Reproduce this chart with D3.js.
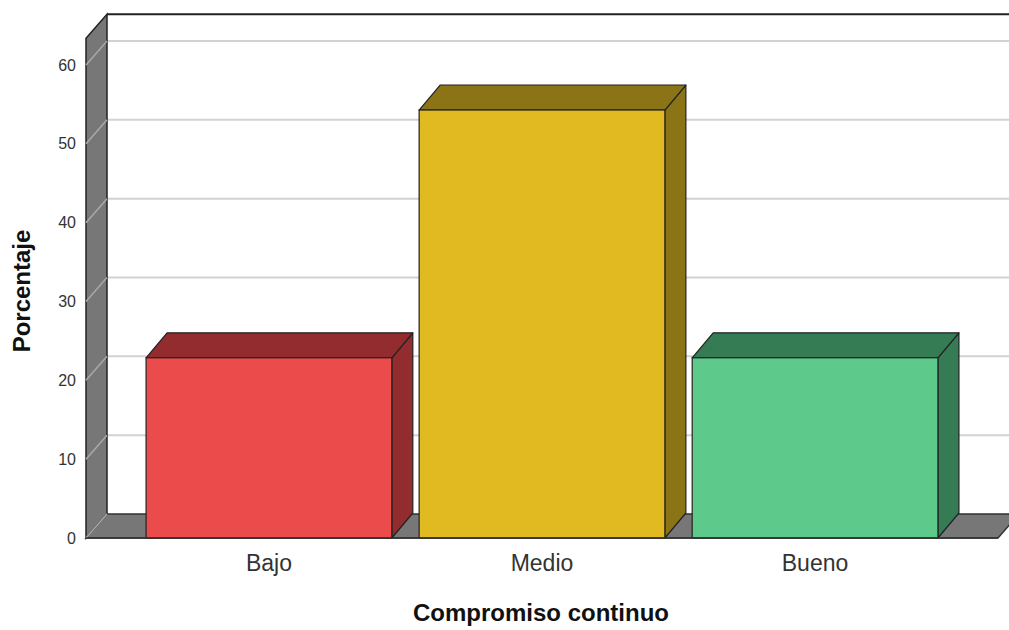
<!DOCTYPE html>
<html>
<head>
<meta charset="utf-8">
<script src="https://cdn.jsdelivr.net/npm/d3@7"></script>
<style>
  body { margin: 0; background: #fff; }
  text { font-family: "Liberation Sans", Arial, sans-serif; }
</style>
</head>
<body>
<div class="canvas"></div>
<script>
// data
const categories = ['Bajo', 'Medio', 'Bueno'];
const percentages = [22.86, 54.29, 22.86];
const yTicks = [0, 10, 20, 30, 40, 50, 60];
const frontColors = ['#ec4b4c', '#e0ba20', '#5dc98b'];
const sideColors = ['#922c2f', '#8b7416', '#357c55'];

const width = 1009, height = 630;
const svg = d3.select('.canvas')
    .append('svg')
    .attr('width', width)
    .attr('height', height);

// front plane: x from 86 to 998, y baseline 538
const x = d3.scaleBand()
    .domain(categories)
    .range([86, 998])
    .paddingInner(0.1)
    .paddingOuter(0.22);

const y = d3.scaleLinear()
    .domain([0, 60])
    .range([538, 65]);

const wall = { dx: 21, dy: -24 };
const bar = { dx: 21, dy: -25 };
const yTop = 63.4;
const x0 = 86, x1 = 998;

// back wall gridlines
svg.append('g')
    .selectAll('line')
    .data(yTicks.filter(d => d > 0))
    .join('line')
    .attr('x1', x0 + wall.dx)
    .attr('x2', width + 20)
    .attr('y1', d => y(d) + wall.dy)
    .attr('y2', d => y(d) + wall.dy)
    .attr('stroke', '#d2d2d2')
    .attr('stroke-width', 2);

// back wall frame
svg.append('line')
    .attr('x1', x0 + wall.dx).attr('x2', width + 20)
    .attr('y1', y(yTop) + wall.dy).attr('y2', y(yTop) + wall.dy)
    .attr('stroke', '#222').attr('stroke-width', 2);

// left wall
svg.append('path')
    .attr('d', `M${x0},${y(0)} L${x0},${y(yTop)} L${x0 + wall.dx},${y(yTop) + wall.dy} L${x0 + wall.dx},${y(0) + wall.dy} Z`)
    .attr('fill', '#777')
    .attr('stroke', '#222')
    .attr('stroke-width', 1.5);

// gridlines across the left wall
svg.append('g')
    .selectAll('line')
    .data(yTicks)
    .join('line')
    .attr('x1', x0)
    .attr('x2', x0 + wall.dx)
    .attr('y1', d => y(d))
    .attr('y2', d => y(d) + wall.dy)
    .attr('stroke', '#a8a8a8')
    .attr('stroke-width', 1.5);

// floor
svg.append('path')
    .attr('d', `M${x0},${y(0)} L${x0 + wall.dx},${y(0) + wall.dy} L${x1 + wall.dx},${y(0) + wall.dy} L${x1},${y(0)} Z`)
    .attr('fill', '#777')
    .attr('stroke', '#333')
    .attr('stroke-width', 1.5);
svg.append('line')
    .attr('x1', x0).attr('x2', x0 + wall.dx)
    .attr('y1', y(0)).attr('y2', y(0) + wall.dy)
    .attr('stroke', '#a8a8a8').attr('stroke-width', 1.5);

// bars
const bars = svg.append('g')
    .selectAll('g')
    .data(categories.map((c, i) => ({ name: c, value: percentages[i], i })))
    .join('g');

bars.append('path') // right side
    .attr('d', d => {
        const r = x(d.name) + x.bandwidth();
        return `M${r},${y(d.value)} L${r + bar.dx},${y(d.value) + bar.dy} L${r + bar.dx},${y(0) + bar.dy} L${r},${y(0)} Z`;
    })
    .attr('fill', d => sideColors[d.i])
    .attr('stroke', '#222')
    .attr('stroke-width', 1.2)
    .attr('stroke-linejoin', 'round');

bars.append('path') // top
    .attr('d', d => {
        const l = x(d.name), r = l + x.bandwidth(), t = y(d.value);
        return `M${l},${t} L${l + bar.dx},${t + bar.dy} L${r + bar.dx},${t + bar.dy} L${r},${t} Z`;
    })
    .attr('fill', d => sideColors[d.i])
    .attr('stroke', '#222')
    .attr('stroke-width', 1.2)
    .attr('stroke-linejoin', 'round');

bars.append('rect') // front
    .attr('x', d => x(d.name))
    .attr('y', d => y(d.value))
    .attr('width', x.bandwidth())
    .attr('height', d => y(0) - y(d.value))
    .attr('fill', d => frontColors[d.i])
    .attr('stroke', '#222')
    .attr('stroke-width', 1.2);

// front baseline
svg.append('line')
    .attr('x1', x0).attr('x2', x1)
    .attr('y1', y(0)).attr('y2', y(0))
    .attr('stroke', '#333').attr('stroke-width', 1.5);

// y tick labels
svg.append('g')
    .selectAll('text')
    .data(yTicks)
    .join('text')
    .attr('x', 76)
    .attr('y', d => y(d))
    .attr('dy', '0.35em')
    .attr('text-anchor', 'end')
    .attr('font-size', 16)
    .attr('fill', '#333')
    .text(d => d);

// category labels
svg.append('g')
    .selectAll('text')
    .data(categories)
    .join('text')
    .attr('x', d => x(d) + x.bandwidth() / 2)
    .attr('y', 571)
    .attr('text-anchor', 'middle')
    .attr('font-size', 23)
    .attr('fill', '#333')
    .text(d => d);

// axis titles
svg.append('text')
    .attr('x', 541)
    .attr('y', 621)
    .attr('text-anchor', 'middle')
    .attr('font-size', 24)
    .attr('font-weight', 'bold')
    .attr('fill', '#111')
    .text('Compromiso continuo');

svg.append('text')
    .attr('transform', 'translate(30,291) rotate(-90)')
    .attr('text-anchor', 'middle')
    .attr('font-size', 24)
    .attr('font-weight', 'bold')
    .attr('fill', '#111')
    .text('Porcentaje');
</script>
</body>
</html>
